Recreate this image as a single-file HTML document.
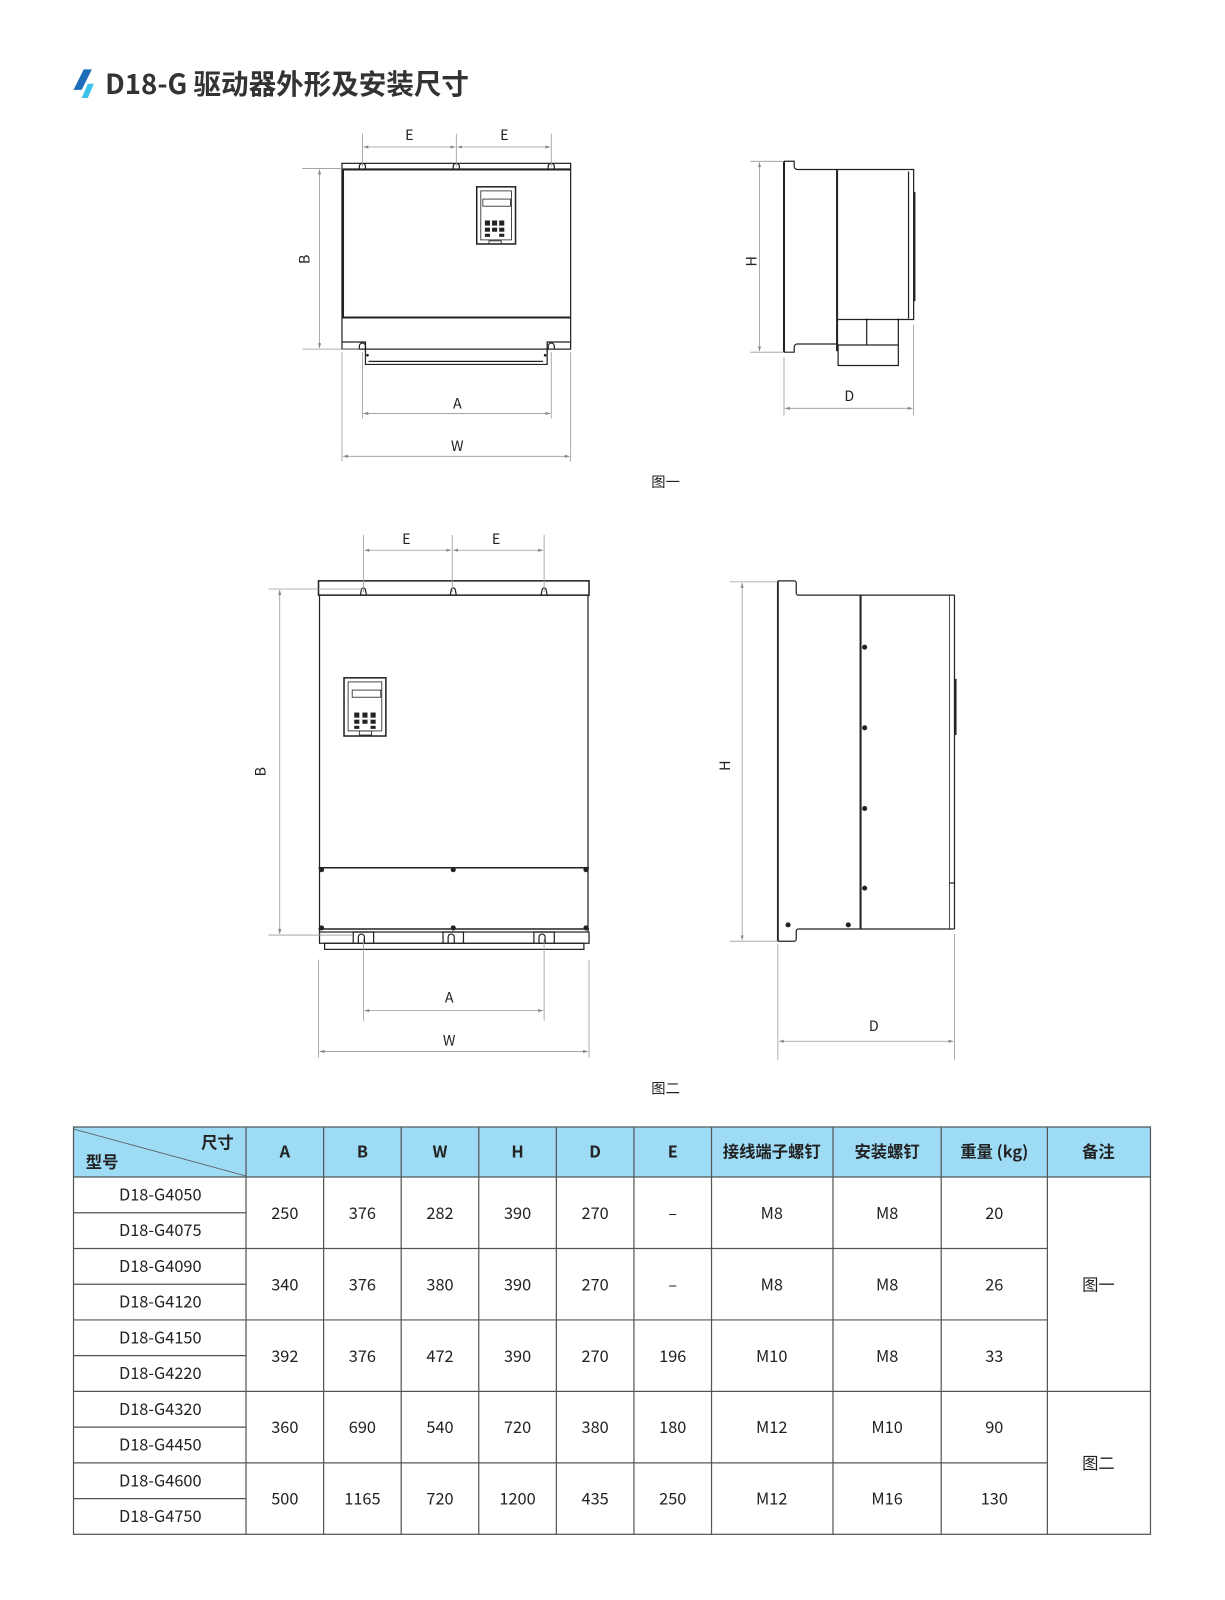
<!DOCTYPE html>
<html><head><meta charset="utf-8"><style>
html,body{margin:0;padding:0;background:#fff;}
svg{display:block;}
text{font-family:"Noto Sans CJK SC","Liberation Sans",sans-serif;}
</style></head><body>
<svg width="1225" height="1600" viewBox="0 0 1200 1567.35" preserveAspectRatio="none" xmlns="http://www.w3.org/2000/svg">
<defs>
<marker id="ar" markerWidth="6" markerHeight="6" refX="6" refY="3" orient="auto-start-reverse"><path d="M0,1 L6,3 L0,5 z" fill="#888"/></marker>
</defs>
<!-- Title -->
<polygon points="82,68 90,68 80,88 72,88" fill="#1e6bb8"/>
<polygon points="86,82 92,82 86,96 80,96" fill="#3cc3ec"/>
<text x="103" y="92" font-size="27" font-weight="bold" fill="#333">D18-G 驱动器外形及安装尺寸</text>

<g fill="none" stroke="#222" stroke-width="1.2">
<!-- FIG 1 FRONT -->
<rect x="335" y="160" width="224" height="182"/>
<line x1="335" y1="166" x2="559" y2="166" stroke-width="2"/>
<line x1="336" y1="166" x2="336" y2="311" stroke-width="2"/>
<line x1="335" y1="311" x2="559" y2="311" stroke-width="2"/>
<path d="M352,166 v-3 a3,3 0 0 1 6,0 v3 M444,166 v-3 a3,3 0 0 1 6,0 v3 M537,166 v-3 a3,3 0 0 1 6,0 v3"/>
<path d="M335,335 h23 v10 M559,335 h-23 v10" />
<path d="M352,342 v-3 a3,3 0 0 1 6,0 v3 M537,342 v-3 a3,3 0 0 1 6,0 v3"/>
<path d="M358,342 v15 h178 v-15"/>
<line x1="361" y1="354" x2="532" y2="354"/>
<rect x="467" y="183" width="38" height="56" stroke-width="1.5"/>
<rect x="471" y="187" width="30" height="48" stroke-width="0.8"/>
<rect x="473" y="195" width="27" height="7" stroke-width="0.8"/>
<rect x="479" y="236" width="12" height="3" stroke-width="0.8"/>
</g>
<g fill="#222">
<rect x="475" y="216" width="5" height="5"/><rect x="482" y="216" width="5" height="5"/><rect x="489" y="216" width="5" height="5"/>
<rect x="475" y="223" width="5" height="4"/><rect x="482" y="223" width="5" height="4"/><rect x="489" y="223" width="5" height="4"/>
<rect x="475" y="229" width="5" height="3"/><rect x="489" y="229" width="5" height="3"/>
<circle cx="360" cy="348" r="1.3"/><circle cx="534" cy="348" r="1.3"/>
</g>
<g stroke="#999" stroke-width="0.8" fill="none">
<line x1="355" y1="131" x2="355" y2="163"/><line x1="447" y1="131" x2="447" y2="163"/><line x1="540" y1="131" x2="540" y2="163"/>
<line x1="356" y1="144" x2="446" y2="144" marker-start="url(#ar)" marker-end="url(#ar)"/>
<line x1="448" y1="144" x2="539" y2="144" marker-start="url(#ar)" marker-end="url(#ar)"/>
<line x1="296" y1="165" x2="335" y2="165"/><line x1="296" y1="342" x2="352" y2="342"/>
<line x1="313" y1="166" x2="313" y2="341" marker-start="url(#ar)" marker-end="url(#ar)"/>
<line x1="355" y1="345" x2="355" y2="410"/><line x1="540" y1="345" x2="540" y2="410"/>
<line x1="356" y1="405" x2="539" y2="405" marker-start="url(#ar)" marker-end="url(#ar)"/>
<line x1="335" y1="345" x2="335" y2="452"/><line x1="559" y1="345" x2="559" y2="452"/>
<line x1="336" y1="447" x2="558" y2="447" marker-start="url(#ar)" marker-end="url(#ar)"/>
</g>
<g font-size="14" fill="#222" text-anchor="middle">
<text x="401" y="137">E</text><text x="494" y="137">E</text>
<text x="448" y="400">A</text><text x="448" y="442">W</text>
<text transform="translate(303,254) rotate(-90)">B</text>
</g>

<!-- FIG 1 SIDE -->
<g fill="none" stroke="#222" stroke-width="1.2">
<path d="M768,158 h10 v5 a3,3 0 0 0 3,3 h39"/>
<path d="M768,345 h10 v-5 a3,3 0 0 1 3,-3 h39"/>
<line x1="768" y1="158" x2="768" y2="345" stroke-width="2"/>
<line x1="820" y1="166" x2="820" y2="344" stroke-width="2"/>
<path d="M820,166 h75 v147 h-74"/>
<line x1="890" y1="168" x2="890" y2="312"/>
<line x1="896" y1="188" x2="896" y2="295" stroke-width="1.5"/>
<path d="M849,312 v26 M880,312 v46 h-59 v-20 h59"/>
</g>
<g stroke="#999" stroke-width="0.8" fill="none">
<line x1="735" y1="158" x2="768" y2="158"/><line x1="735" y1="345" x2="768" y2="345"/>
<line x1="744" y1="159" x2="744" y2="344" marker-start="url(#ar)" marker-end="url(#ar)"/>
<line x1="768" y1="350" x2="768" y2="407"/><line x1="895" y1="318" x2="895" y2="407"/>
<line x1="769" y1="400" x2="894" y2="400" marker-start="url(#ar)" marker-end="url(#ar)"/>
</g>
<g font-size="14" fill="#222" text-anchor="middle">
<text transform="translate(741,256) rotate(-90)">H</text>
<text x="832" y="393">D</text>
</g>
<text x="652" y="477" font-size="14" fill="#222" text-anchor="middle">图一</text>

<!-- FIG 2 FRONT -->
<g fill="none" stroke="#222" stroke-width="1.2">
<rect x="312" y="569" width="265" height="14" stroke-width="1.5"/>
<path d="M313,583 v330 M576,583 v330"/>
<line x1="312" y1="850" x2="577" y2="850" stroke-width="1.5"/>
<line x1="312" y1="910" x2="577" y2="910" stroke-width="1.5"/>
<rect x="313" y="913" width="264" height="11"/>
<rect x="318" y="924" width="254" height="6"/>
<path d="M353,583 l1,-5 a2,2 0 0 1 4,0 l1,5 M441,583 l1,-5 a2,2 0 0 1 4,0 l1,5 M530,583 l1,-5 a2,2 0 0 1 4,0 l1,5"/>
<path d="M346,924 v-11 h20 v11 M351,924 v-6 a3,3 0 0 1 6,0 v6"/>
<path d="M434,924 v-11 h20 v11 M439,924 v-6 a3,3 0 0 1 6,0 v6"/>
<path d="M523,924 v-11 h20 v11 M528,924 v-6 a3,3 0 0 1 6,0 v6"/>
<rect x="337" y="664" width="41" height="57" stroke-width="1.5"/>
<rect x="341" y="668" width="33" height="48" stroke-width="0.8"/>
<rect x="345" y="676" width="28" height="7" stroke-width="0.8"/>
<rect x="352" y="716" width="12" height="4" stroke-width="0.8"/>
</g>
<g fill="#222">
<rect x="347" y="698" width="5" height="5"/><rect x="355" y="698" width="5" height="5"/><rect x="363" y="698" width="5" height="5"/>
<rect x="347" y="705" width="5" height="4"/><rect x="355" y="705" width="5" height="4"/><rect x="363" y="705" width="5" height="4"/>
<rect x="347" y="711" width="5" height="3"/><rect x="363" y="711" width="5" height="3"/>
<circle cx="315" cy="852" r="2.5"/><circle cx="444" cy="852" r="2.5"/><circle cx="574" cy="852" r="2.5"/>
<circle cx="315" cy="909" r="2.5"/><circle cx="444" cy="909" r="2.5"/><circle cx="574" cy="909" r="2.5"/>
</g>
<g stroke="#999" stroke-width="0.8" fill="none">
<line x1="356" y1="524" x2="356" y2="580"/><line x1="443" y1="524" x2="443" y2="580"/><line x1="533" y1="524" x2="533" y2="580"/>
<line x1="357" y1="539" x2="442" y2="539" marker-start="url(#ar)" marker-end="url(#ar)"/>
<line x1="444" y1="539" x2="532" y2="539" marker-start="url(#ar)" marker-end="url(#ar)"/>
<line x1="263" y1="577" x2="355" y2="577"/><line x1="263" y1="916" x2="345" y2="916"/>
<line x1="274" y1="578" x2="274" y2="915" marker-start="url(#ar)" marker-end="url(#ar)"/>
<line x1="356" y1="920" x2="356" y2="1000"/><line x1="533" y1="920" x2="533" y2="1000"/>
<line x1="357" y1="990" x2="532" y2="990" marker-start="url(#ar)" marker-end="url(#ar)"/>
<line x1="312" y1="940" x2="312" y2="1036"/><line x1="577" y1="940" x2="577" y2="1036"/>
<line x1="313" y1="1030" x2="576" y2="1030" marker-start="url(#ar)" marker-end="url(#ar)"/>
</g>
<g font-size="14" fill="#222" text-anchor="middle">
<text x="398" y="533">E</text><text x="486" y="533">E</text>
<text x="440" y="982">A</text><text x="440" y="1024">W</text>
<text transform="translate(260,756) rotate(-90)">B</text>
</g>

<!-- FIG 2 SIDE -->
<g fill="none" stroke="#222" stroke-width="1.2">
<path d="M762,569 h16 a2,2 0 0 1 2,2 v10 a2,2 0 0 0 2,2 h153"/>
<path d="M762,922 h16 a2,2 0 0 0 2,-2 v-8 a2,2 0 0 1 2,-2 h153"/>
<line x1="762" y1="569" x2="762" y2="922" stroke-width="1.8"/>
<line x1="843" y1="583" x2="843" y2="910" stroke-width="2"/>
<line x1="935" y1="583" x2="935" y2="910" stroke-width="1.2"/>
<line x1="930" y1="583" x2="930" y2="910" stroke-width="0.8"/>
<line x1="936" y1="665" x2="936" y2="720" stroke-width="2"/>
<line x1="930" y1="865" x2="935" y2="865"/>
</g>
<g fill="#222">
<circle cx="847" cy="634" r="2.5"/><circle cx="847" cy="713" r="2.5"/><circle cx="847" cy="792" r="2.5"/><circle cx="847" cy="870" r="2.5"/>
<circle cx="772" cy="906" r="2.5"/><circle cx="831" cy="906" r="2.5"/>
</g>
<g stroke="#999" stroke-width="0.8" fill="none">
<line x1="715" y1="570" x2="762" y2="570"/><line x1="715" y1="922" x2="762" y2="922"/>
<line x1="727" y1="571" x2="727" y2="921" marker-start="url(#ar)" marker-end="url(#ar)"/>
<line x1="762" y1="925" x2="762" y2="1038"/><line x1="935" y1="915" x2="935" y2="1038"/>
<line x1="763" y1="1020" x2="934" y2="1020" marker-start="url(#ar)" marker-end="url(#ar)"/>
</g>
<g font-size="14" fill="#222" text-anchor="middle">
<text transform="translate(715,750) rotate(-90)">H</text>
<text x="856" y="1010">D</text>
</g>
<text x="652" y="1071" font-size="14" fill="#222" text-anchor="middle">图二</text>

<!-- TABLE -->
<rect x="72" y="1104" width="1055" height="49" fill="#9edcf6"/>
<g stroke="#555" stroke-width="1.2" fill="none">
<rect x="72" y="1104" width="1055" height="399"/>
<line x1="72" y1="1153" x2="1127" y2="1153"/>
<line x1="72" y1="1106" x2="241" y2="1152" stroke-width="0.8"/>
<line x1="241" y1="1104" x2="241" y2="1503"/>
<line x1="317" y1="1104" x2="317" y2="1503"/>
<line x1="393" y1="1104" x2="393" y2="1503"/>
<line x1="469" y1="1104" x2="469" y2="1503"/>
<line x1="545" y1="1104" x2="545" y2="1503"/>
<line x1="621" y1="1104" x2="621" y2="1503"/>
<line x1="697" y1="1104" x2="697" y2="1503"/>
<line x1="816" y1="1104" x2="816" y2="1503"/>
<line x1="922" y1="1104" x2="922" y2="1503"/>
<line x1="1026" y1="1104" x2="1026" y2="1503"/>
<line x1="72" y1="1188" x2="241" y2="1188"/>
<line x1="72" y1="1258" x2="241" y2="1258"/>
<line x1="72" y1="1328" x2="241" y2="1328"/>
<line x1="72" y1="1398" x2="241" y2="1398"/>
<line x1="72" y1="1468" x2="241" y2="1468"/>
<line x1="72" y1="1223" x2="1026" y2="1223"/>
<line x1="72" y1="1293" x2="1026" y2="1293"/>
<line x1="72" y1="1363" x2="1127" y2="1363"/>
<line x1="72" y1="1433" x2="1026" y2="1433"/>
</g>
<g font-size="16" fill="#222" text-anchor="middle" font-weight="bold">
<text x="213" y="1125">尺寸</text>
<text x="100" y="1144">型号</text>
<text x="279" y="1134">A</text><text x="355" y="1134">B</text><text x="431" y="1134">W</text>
<text x="507" y="1134">H</text><text x="583" y="1134">D</text><text x="659" y="1134">E</text>
<text x="756" y="1134">接线端子螺钉</text><text x="869" y="1134">安装螺钉</text>
<text x="974" y="1134">重量 (kg)</text><text x="1076" y="1134">备注</text>
</g>
<g font-size="16" fill="#222" text-anchor="middle">
<text x="157" y="1176">D18-G4050</text><text x="157" y="1211">D18-G4075</text>
<text x="157" y="1246">D18-G4090</text><text x="157" y="1281">D18-G4120</text>
<text x="157" y="1316">D18-G4150</text><text x="157" y="1351">D18-G4220</text>
<text x="157" y="1386">D18-G4320</text><text x="157" y="1421">D18-G4450</text>
<text x="157" y="1456">D18-G4600</text><text x="157" y="1491">D18-G4750</text>

<text x="279" y="1194">250</text><text x="355" y="1194">376</text><text x="431" y="1194">282</text><text x="507" y="1194">390</text><text x="583" y="1194">270</text><text x="659" y="1194">–</text><text x="756" y="1194">M8</text><text x="869" y="1194">M8</text><text x="974" y="1194">20</text>
<text x="279" y="1264">340</text><text x="355" y="1264">376</text><text x="431" y="1264">380</text><text x="507" y="1264">390</text><text x="583" y="1264">270</text><text x="659" y="1264">–</text><text x="756" y="1264">M8</text><text x="869" y="1264">M8</text><text x="974" y="1264">26</text>
<text x="279" y="1334">392</text><text x="355" y="1334">376</text><text x="431" y="1334">472</text><text x="507" y="1334">390</text><text x="583" y="1334">270</text><text x="659" y="1334">196</text><text x="756" y="1334">M10</text><text x="869" y="1334">M8</text><text x="974" y="1334">33</text>
<text x="279" y="1404">360</text><text x="355" y="1404">690</text><text x="431" y="1404">540</text><text x="507" y="1404">720</text><text x="583" y="1404">380</text><text x="659" y="1404">180</text><text x="756" y="1404">M12</text><text x="869" y="1404">M10</text><text x="974" y="1404">90</text>
<text x="279" y="1474">500</text><text x="355" y="1474">1165</text><text x="431" y="1474">720</text><text x="507" y="1474">1200</text><text x="583" y="1474">435</text><text x="659" y="1474">250</text><text x="756" y="1474">M12</text><text x="869" y="1474">M16</text><text x="974" y="1474">130</text>
<text x="1076" y="1264">图一</text><text x="1076" y="1439">图二</text>
</g>
</svg>
</body></html>
